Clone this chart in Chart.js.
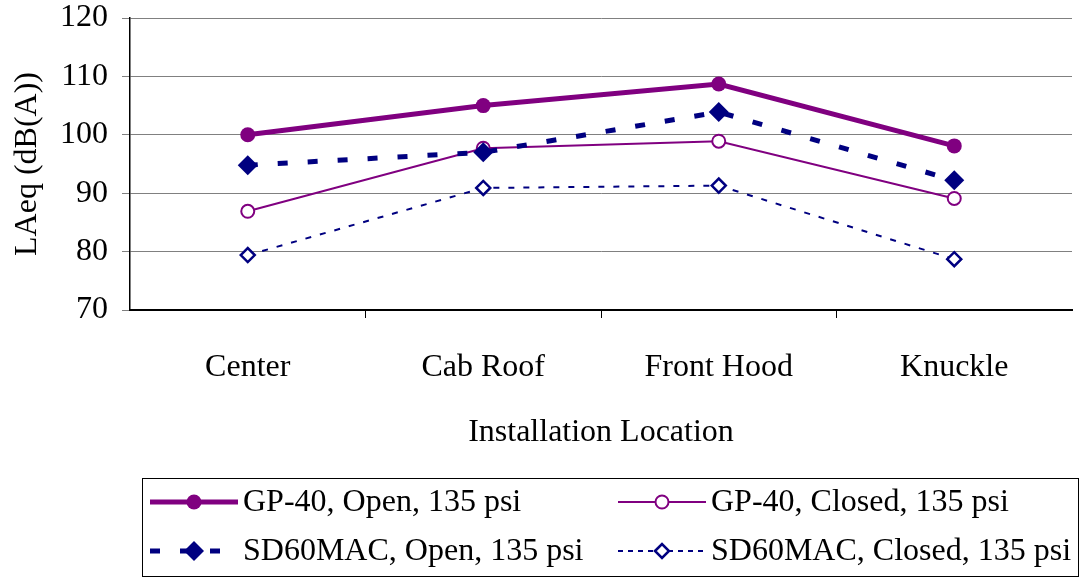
<!DOCTYPE html>
<html>
<head>
<meta charset="utf-8">
<script src="https://cdn.jsdelivr.net/npm/chart.js@4/dist/chart.umd.min.js"></script>
<style>
  html, body { margin: 0; padding: 0; background: #fff; }
  #wrap { position: relative; width: 1082px; height: 581px; }
</style>
</head>
<body>
<div id="wrap"><canvas id="c" width="1082" height="581"></canvas></div>
<script>
const categories = ['Center', 'Cab Roof', 'Front Hood', 'Knuckle'];
const gp40Open = [100.0, 105.0, 108.7, 98.1];
const sd60Open = [94.8, 97.0, 103.9, 92.2];
const gp40Closed = [86.9, 97.7, 98.9, 89.1];
const sd60Closed = [79.4, 90.9, 91.3, 78.7];
const seriesNames = ['GP-40, Open, 135 psi', 'SD60MAC, Open, 135 psi', 'GP-40, Closed, 135 psi', 'SD60MAC, Closed, 135 psi'];
const yTicks = [70, 80, 90, 100, 110, 120];
const yTitle = 'LAeq (dB(A))';
const xTitle = 'Installation Location';

const PURPLE = '#800080';
const NAVY = '#000080';
const FONT = "'Liberation Serif', 'Times New Roman', serif";
const FS = 32;

const datasets = [
  { label: seriesNames[0], data: gp40Open, borderColor: PURPLE, backgroundColor: PURPLE,
    borderWidth: 5, pointStyle: 'circle', pointRadius: 7.5, pointBorderWidth: 0, pointBackgroundColor: PURPLE, borderDash: [] },
  { label: seriesNames[1], data: sd60Open, borderColor: NAVY, backgroundColor: NAVY,
    borderWidth: 5, borderDash: [10, 20], pointStyle: 'rectRot', pointRadius: 10, pointBorderWidth: 0, pointBackgroundColor: NAVY },
  { label: seriesNames[2], data: gp40Closed, borderColor: PURPLE, backgroundColor: '#fff',
    borderWidth: 2, pointStyle: 'circle', pointRadius: 6.5, pointBorderWidth: 2, pointBorderColor: PURPLE, pointBackgroundColor: '#fff', borderDash: [] },
  { label: seriesNames[3], data: sd60Closed, borderColor: NAVY, backgroundColor: '#fff',
    borderWidth: 2, borderDash: [6, 9], pointStyle: 'rectRot', pointRadius: 7, pointBorderWidth: 2.5, pointBorderColor: NAVY, pointBackgroundColor: '#fff' }
];

// legend layout: rows x columns (dataset indices)
const legendOrder = [[0, 2], [1, 3]];

function drawMarker(ctx, ds, x, y) {
  ctx.save();
  ctx.setLineDash([]);
  ctx.lineWidth = ds.pointBorderWidth;
  ctx.strokeStyle = ds.pointBorderColor || ds.borderColor;
  ctx.fillStyle = ds.pointBackgroundColor;
  Chart.helpers.drawPoint(ctx, {
    pointStyle: ds.pointStyle, rotation: 0, radius: ds.pointRadius, borderWidth: ds.pointBorderWidth
  }, x, y);
  ctx.restore();
}

const legendPlugin = {
  id: 'customLegend',
  afterDraw(chart) {
    const ctx = chart.ctx;
    ctx.save();
    ctx.strokeStyle = '#000';
    ctx.lineWidth = 1;
    ctx.strokeRect(142.5, 478.5, 936, 98);
    const colX = [150, 618];
    const rowY = [502, 551];
    ctx.font = FS + 'px ' + FONT;
    ctx.textBaseline = 'middle';
    ctx.textAlign = 'left';
    legendOrder.forEach((row, r) => {
      row.forEach((di, c) => {
        const ds = chart.data.datasets[di];
        const x0 = colX[c], y = rowY[r];
        ctx.save();
        ctx.strokeStyle = ds.borderColor;
        ctx.lineWidth = ds.borderWidth;
        const dash = ds.borderDash && ds.borderDash.length ? (ds.borderWidth < 3 ? [5, 5] : ds.borderDash) : [];
        ctx.setLineDash(dash);
        ctx.lineCap = 'butt';
        ctx.beginPath();
        ctx.moveTo(x0, y);
        ctx.lineTo(x0 + 88, y);
        ctx.stroke();
        ctx.restore();
        drawMarker(ctx, ds, x0 + 44, y);
        ctx.fillStyle = '#000';
        ctx.fillText(ds.label, x0 + 93, y + 1);
      });
    });
    ctx.restore();
  }
};

new Chart(document.getElementById('c'), {
  type: 'line',
  data: { labels: categories, datasets },
  options: {
    responsive: false,
    animation: false,
    events: [],
    layout: { autoPadding: false, padding: { left: 0, right: 10, top: 18, bottom: 129 } },
    elements: { line: { tension: 0, borderCapStyle: 'butt' } },
    plugins: { legend: { display: false }, tooltip: { enabled: false } },
    scales: {
      x: {
        type: 'category',
        offset: true,
        afterFit: (s) => { s.height = 142; s.paddingLeft = 0; s.paddingRight = 0; },
        grid: {
          offset: true,
          drawOnChartArea: false,
          tickLength: 8,
          color: (c) => (c.index === 0 || c.index === undefined) ? 'rgba(0,0,0,0)' : '#000',
          lineWidth: 1
        },
        border: { display: true, color: '#000', width: 2 },
        ticks: { color: '#000', font: { family: FONT, size: FS }, padding: 30, maxRotation: 0 },
        title: { display: true, text: xTitle, color: '#000', font: { family: FONT, size: FS }, padding: { top: 0, bottom: 0 } }
      },
      y: {
        min: 70, max: 120,
        afterFit: (s) => { s.width = 130; s.paddingTop = 0; s.paddingBottom = 0; },
        afterBuildTicks: (s) => { s.ticks = yTicks.map(v => ({ value: v })); },
        grid: { color: '#808080', lineWidth: 1, tickLength: 8 },
        border: { display: true, color: '#000', width: 1.5 },
        ticks: { color: '#000', font: { family: FONT, size: FS }, padding: 14 },
        title: { display: true, text: yTitle, color: '#000', font: { family: FONT, size: FS }, padding: { top: 8, bottom: 0 } }
      }
    }
  },
  plugins: [legendPlugin]
});
</script>
</body>
</html>
